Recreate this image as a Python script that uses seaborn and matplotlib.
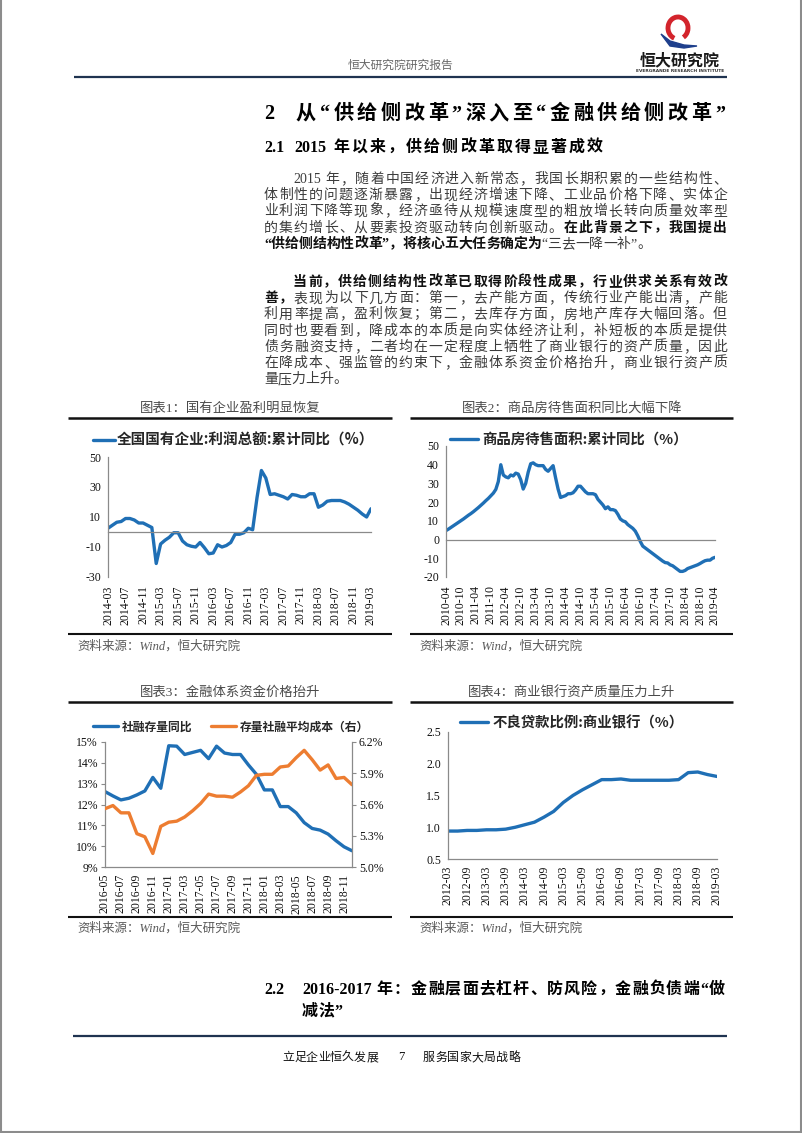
import numpy as np
import pandas as pd
import matplotlib
matplotlib.use("Agg")
import matplotlib.pyplot as plt
import seaborn as sns
from matplotlib.patches import Arc, Polygon
from matplotlib.lines import Line2D
from matplotlib.font_manager import FontProperties

# ---------------- data ----------------
soe_months = pd.date_range("2014-03", "2019-03", freq="MS")
soe_profit_yoy = [2.5, 4.5, 6.5, 7.0, 9.0, 9.0, 8.0, 6.0, 6.0, 4.5,
                  3.0, -21.0, -8.0, -5.5, -3.5, -0.5, -0.5, -6.0, -8.5, -9.5, -10.0, -7.0,
                  -10.5, -14.5, -14.0, -8.5, -10.0, -9.0, -7.0, -1.5, -1.5, -0.5, 2.5, 1.5,
                  23.0, 41.0, 36.0, 25.0, 25.5, 24.5, 23.5, 22.0, 25.0, 24.5, 23.5, 23.5,
                  25.5, 25.5, 16.5, 18.0, 20.5, 21.0, 21.0, 21.0, 20.0, 18.5, 16.5, 14.5,
                  12.0, 10.0, 15.5]

house_months = pd.date_range("2010-04", "2019-04", freq="MS")
house_unsold_yoy = [4.8, 5.6, 6.5, 7.4, 8.3, 9.2, 10.1, 11.0, 12.0,
                    13.0, 13.9, 14.9, 16.0, 17.1, 18.3, 19.5, 20.8, 22.0, 23.4, 24.8, 26.8,
                    31.0, 40.0, 34.5, 33.5, 33.0, 34.5, 34.0, 35.5, 35.0, 32.0, 27.0, 30.0,
                    36.0, 40.5, 41.0, 40.0, 39.5, 39.5, 39.5, 37.5, 36.5, 38.0, 39.5, 33.0,
                    27.0, 22.5, 23.0, 23.5, 24.5, 24.5, 25.0, 26.5, 28.5, 28.5, 27.0, 25.5,
                    24.5, 24.5, 24.5, 24.0, 21.5, 20.0, 18.5, 16.5, 17.5, 16.0, 16.0, 15.5,
                    13.5, 11.0, 10.0, 9.5, 8.0, 7.0, 6.0, 4.5, 2.0, -1.0, -3.5, -4.5,
                    -5.5, -6.5, -7.5, -8.5, -9.5, -10.5, -11.5, -12.3, -12.5, -13.5, -14.0, -15.0,
                    -16.0, -17.0, -17.0, -16.5, -15.5, -15.0, -14.5, -14.0, -13.5, -12.8, -12.0, -11.3,
                    -11.0, -11.0, -10.0, -9.5]

tsf_months = pd.date_range("2016-05", "2018-12", freq="MS")
tsf_stock_yoy = [12.62, 12.41, 12.22, 12.30, 12.46, 12.65, 13.30, 12.78,
                 14.82, 14.80, 14.40, 14.50, 14.60, 14.20, 14.80, 14.47, 14.40, 14.40, 13.90, 13.45,
                 12.70, 12.70, 11.90, 11.90, 11.60, 11.13, 10.85, 10.77, 10.58, 10.26, 9.97, 9.78]
tsf_avg_cost = [5.56, 5.59, 5.52, 5.52, 5.32, 5.29, 5.13, 5.39,
                5.43, 5.44, 5.48, 5.54, 5.61, 5.70, 5.68, 5.68, 5.67, 5.72, 5.78, 5.88,
                5.89, 5.89, 5.96, 5.97, 6.05, 6.12, 6.03, 5.93, 5.98, 5.85, 5.86, 5.79]

npl_quarters = pd.date_range("2012-03", "2019-03", freq="3MS")
npl_ratio = [0.94, 0.94, 0.95, 0.95, 0.96, 0.96, 0.97, 1.00, 1.04, 1.08, 1.16, 1.25,
             1.39, 1.50, 1.59, 1.67, 1.75, 1.75, 1.76, 1.74, 1.74, 1.74, 1.74, 1.74,
             1.75, 1.86, 1.87, 1.83, 1.80]

soe_labels = [d.strftime("%Y-%m") for d in soe_months]
house_labels = [d.strftime("%Y-%m") for d in house_months]
tsf_labels = [d.strftime("%Y-%m") for d in tsf_months]
npl_labels = [d.strftime("%Y-%m") for d in npl_quarters]

legend1 = "全国国有企业:利润总额:累计同比（%）"
legend2 = "商品房待售面积:累计同比（%）"
legend3 = ["社融存量同比", "存量社融平均成本（右）"]
legend4 = "不良贷款比例:商业银行（%）"
chart_titles = ["图表1：国有企业盈利明显恢复", "图表2：商品房待售面积同比大幅下降",
                "图表3：金融体系资金价格抬升", "图表4：商业银行资产质量压力上升"]
source_text = "资料来源：Wind，恒大研究院"

# ---------------- style ----------------
sns.set_theme(style="white")
plt.rcParams["font.family"] = ["Liberation Serif", "Noto Sans CJK SC", "DejaVu Sans"]
plt.rcParams["axes.unicode_minus"] = False

BLUE = "#1f6fb5"
ORANGE = "#ed7d31"
GRAY_AX = "#8a8a8a"
NAVY = "#1f3350"
CJK = ["Noto Sans CJK SC", "DejaVu Sans"]
SER = ["Liberation Serif", "Noto Sans CJK SC", "DejaVu Sans"]
TICK_SIZE = 8.5
LW = 2.4

W, H = 802, 1133
fig = plt.figure(figsize=(W / 100, H / 100), dpi=100)
fig.patch.set_facecolor("white")
page = fig.add_axes([0, 0, 1, 1])
page.set_xlim(0, W)
page.set_ylim(H, 0)
page.axis("off")
renderer = fig.canvas.get_renderer()


def add_ax(l, t, r, b):
    return fig.add_axes([l / W, 1 - b / H, (r - l) / W, (b - t) / H])


def hline(x0, x1, y, lw, color):
    page.add_line(Line2D([x0, x1], [y, y], lw=lw, color=color, solid_capstyle="butt"))


def tokens_of(s):
    toks, buf = [], ""
    for ch in s:
        if ch.isascii() and ch != " ":
            buf += ch
        else:
            if buf:
                toks.append(buf)
                buf = ""
            toks.append(ch)
    if buf:
        toks.append(buf)
    return toks


def put_line(segs, x0, y, size, x1=None, normal_color="#3c3c3c", bold_color="#111111"):
    px = size * 100 / 72
    arts, widths = [], []
    for text, bold in segs:
        for tk in tokens_of(text):
            if tk == " ":
                arts.append(None)
                widths.append(px * 0.2)
                continue
            t = page.text(x0, y + 0.36 * px, tk, fontsize=size,
                          fontweight="bold" if bold else "normal",
                          color=bold_color if bold else normal_color,
                          family=SER, ha="left", va="baseline")
            arts.append(t)
            widths.append(t.get_window_extent(renderer).width)
    gap = 0.0
    if x1 is not None and len(arts) > 1:
        gap = (x1 - x0 - sum(widths)) / (len(arts) - 1)
    x = x0
    for t, w in zip(arts, widths):
        if t is not None:
            t.set_x(x)
        x += w + gap


# ---------------- page decoration ----------------
page.add_line(Line2D([1, 1], [0, H - 1], lw=1.5, color="#8c8c8c"))
page.add_line(Line2D([W - 1, W - 1], [0, H - 1], lw=1.5, color="#8c8c8c"))
page.add_line(Line2D([0, W], [H - 1.5, H - 1.5], lw=1.5, color="#8c8c8c"))

page.text(401, 65, "恒大研究院研究报告", fontsize=8.5, color="#666666", family=CJK,
          ha="center", va="center")
hline(74, 727, 77, 1.6, NAVY)
# logo
page.add_patch(Arc((678, 28), 20, 22, theta1=110, theta2=420, lw=3.5, color="#d3242c"))
page.add_patch(Polygon([(661, 34), (670, 41), (684, 45), (697, 46), (684, 48), (670, 46)],
                       closed=True, color="#1e3f8c"))
page.text(680, 60, "恒大研究院", fontsize=11.5, fontweight="bold", color="#1a1a1a",
          family=CJK, ha="center", va="center")
page.text(680, 71, "EVERGRANDE RESEARCH INSTITUTE", fontsize=3.2, fontweight="bold",
          color="#333333", family=["DejaVu Sans"], ha="center", va="center")

# headings and body text
put_line([("2", True)], 264, 112, 14.5, bold_color="#000000")
put_line([("从“供给侧改革”深入至“金融供给侧改革”", True)], 296, 112, 14.5, x1=725,
         bold_color="#000000")
put_line([("2.1", True)], 264, 146, 11.5, bold_color="#000000")
put_line([("2015 年以来，供给侧改革取得显著成效", True)], 294, 146, 11.5, x1=603,
         bold_color="#000000")

para1 = [
    [("2015 年，随着中国经济进入新常态，我国长期积累的一些结构性、", False)],
    [("体制性的问题逐渐暴露，出现经济增速下降、工业品价格下降、实体企", False)],
    [("业利润下降等现象，经济亟待从规模速度型的粗放增长转向质量效率型", False)],
    [("的集约增长、从要素投资驱动转向创新驱动。", False), ("在此背景之下，我国提出", True)],
    [("“供给侧结构性改革”，将核心五大任务确定为", True), ("“三去一降一补”。", False)],
]
para2 = [
    [("当前，供给侧结构性改革已取得阶段性成果，行业供求关系有效改", True)],
    [("善，", True), ("表现为以下几方面：第一，去产能方面，传统行业产能出清，产能", False)],
    [("利用率提高，盈利恢复；第二，去库存方面，房地产库存大幅回落。但", False)],
    [("同时也要看到，降成本的本质是向实体经济让利，补短板的本质是提供", False)],
    [("债务融资支持，二者均在一定程度上牺牲了商业银行的资产质量，因此", False)],
    [("在降成本、强监管的约束下，金融体系资金价格抬升，商业银行资产质", False)],
    [("量压力上升。", False)],
]
BODY = 10
LS = 16.2
for para, y0 in ((para1, 178), (para2, 281)):
    for k, segs in enumerate(para):
        last = k == len(para) - 1
        x0 = 293 if k == 0 else 264
        put_line(segs, x0, y0 + k * LS, BODY, x1=None if last else 727)

put_line([("2.2", True)], 264, 988, 11.5, bold_color="#000000")
put_line([("2016-2017 年：金融层面去杠杆、防风险，金融负债端“做", True)], 302, 988, 11.5,
         x1=725, bold_color="#000000")
put_line([("减法”", True)], 302, 1010, 11.5, bold_color="#000000")

hline(73, 727, 1036, 1.6, NAVY)
put_line([("立足企业恒久发展", False)], 282, 1057, 8.6, x1=378, normal_color="#111111")
page.text(401, 1057, "7", fontsize=9, color="#111111", family=SER, ha="center", va="center")
put_line([("服务国家大局战略", False)], 423, 1057, 8.6, x1=520, normal_color="#111111")

# chart frames
for (xl, xr), (yt, yb, ys) in [((68, 392), (418, 634, 646)),
                               ((410, 733), (418, 634, 646)),
                               ((68, 392), (702, 917, 928)),
                               ((410, 733), (702, 917, 928))]:
    hline(xl, xr, yt, 1.8, "#111111")
    hline(xl, xr, yb, 1.5, "#111111")
    page.text(xl + 9, ys, source_text, fontsize=9, color="#5a5a5a", family=SER,
              style="italic", ha="left", va="center")
for title, (xc, yc) in zip(chart_titles, [(230, 408), (572, 408), (230, 693), (572, 693)]):
    page.text(xc, yc, title, fontsize=9.6, color="#4a4a4a", family=SER, ha="center", va="center")


def style_ax(ax):
    ax.set_facecolor("none")
    ax.grid(False)
    for side in ("top", "right"):
        ax.spines[side].set_visible(False)
    for side in ("left", "bottom"):
        ax.spines[side].set_color(GRAY_AX)
        ax.spines[side].set_linewidth(0.9)
    ax.tick_params(axis="y", length=3, width=0.8, color=GRAY_AX, pad=2,
                   labelsize=TICK_SIZE, labelcolor="#111111", direction="out")
    ax.tick_params(axis="x", length=3, width=0.8, color=GRAY_AX, labelsize=TICK_SIZE,
                   labelcolor="#111111", direction="out")
    ax.set_xlabel("")
    ax.set_ylabel("")


def zero_axis_labels(ax, ticks, labels, pad):
    ax.spines["bottom"].set_position(("data", 0))
    ax.set_xticks(ticks)
    ax.tick_params(axis="x", labelbottom=False)
    sec = ax.secondary_xaxis("bottom")
    sec.set_xticks(ticks)
    sec.set_xticklabels(labels, rotation=90)
    sec.tick_params(length=0, pad=pad, labelsize=TICK_SIZE, labelcolor="#111111")
    sec.spines["bottom"].set_visible(False)


def fig_legend(handles, labels, x, y, size, hl, htp, ncol=1, cs=1.0):
    fig.legend(handles=handles, labels=labels, loc="center left",
               bbox_to_anchor=(x / W, 1 - y / H), bbox_transform=fig.transFigure,
               frameon=False, borderpad=0, borderaxespad=0, handlelength=hl,
               handletextpad=htp, ncol=ncol, columnspacing=cs,
               prop=FontProperties(family=CJK, weight="bold", size=size))


# ---------------- chart 1 ----------------
ax1 = add_ax(108, 457, 371, 577)
df1 = pd.DataFrame({"i": np.arange(len(soe_profit_yoy)), "v": soe_profit_yoy})
sns.lineplot(data=df1, x="i", y="v", ax=ax1, color=BLUE, lw=LW)
ax1.set_xlim(0, len(soe_profit_yoy) - 1)
ax1.set_ylim(-30, 50)
ax1.set_yticks([-30, -10, 10, 30, 50])
style_ax(ax1)
t1 = np.arange(0, len(soe_labels), 4)
zero_axis_labels(ax1, t1, [soe_labels[i] for i in t1], 6)
fig_legend([ax1.get_lines()[0]], [legend1], 93, 440, 10.5, 1.5, 0.15)

# ---------------- chart 2 ----------------
ax2 = add_ax(446, 446, 715, 577)
df2 = pd.DataFrame({"i": np.arange(len(house_unsold_yoy)), "v": house_unsold_yoy})
sns.lineplot(data=df2, x="i", y="v", ax=ax2, color=BLUE, lw=LW)
ax2.set_xlim(0, len(house_unsold_yoy) - 1)
ax2.set_ylim(-20, 50)
ax2.set_yticks(np.arange(-20, 51, 10))
style_ax(ax2)
t2 = np.arange(0, len(house_labels), 6)
zero_axis_labels(ax2, t2, [house_labels[i] for i in t2], 6)
fig_legend([ax2.get_lines()[0]], [legend2], 450, 440, 10.4, 1.95, 0.28)

# ---------------- chart 3 ----------------
ax3 = add_ax(105, 742, 352, 867)
df3 = pd.DataFrame({"i": np.arange(len(tsf_stock_yoy)), "a": tsf_stock_yoy, "b": tsf_avg_cost})
sns.lineplot(data=df3, x="i", y="a", ax=ax3, color=BLUE, lw=LW)
ax3b = ax3.twinx()
sns.lineplot(data=df3, x="i", y="b", ax=ax3b, color=ORANGE, lw=LW)
ax3.set_xlim(0, len(tsf_stock_yoy) - 1)
ax3.set_ylim(9, 15)
ax3.set_yticks(np.arange(9, 16, 1))
ax3.set_yticklabels([f"{v}%" for v in range(9, 16)])
ax3b.set_ylim(5.0, 6.2)
ax3b.set_yticks([5.0, 5.3, 5.6, 5.9, 6.2])
ax3b.set_yticklabels([f"{v:.1f}%" for v in [5.0, 5.3, 5.6, 5.9, 6.2]])
style_ax(ax3)
t3 = np.arange(0, len(tsf_labels), 2)
ax3.set_xticks(t3)
ax3.set_xticklabels([tsf_labels[i] for i in t3], rotation=90)
ax3.tick_params(axis="x", pad=2)
ax3b.grid(False)
ax3b.set_facecolor("none")
ax3b.set_ylabel("")
for side in ("top", "left", "bottom"):
    ax3b.spines[side].set_visible(False)
ax3b.spines["right"].set_color(GRAY_AX)
ax3b.spines["right"].set_linewidth(0.9)
ax3b.tick_params(axis="y", length=3, width=0.8, color=GRAY_AX, pad=2,
                 labelsize=TICK_SIZE, labelcolor="#111111", direction="out")
fig_legend([ax3.get_lines()[0], ax3b.get_lines()[0]], legend3, 93, 727, 8.5, 2.1, 0.33,
           ncol=2, cs=1.6)

# ---------------- chart 4 ----------------
ax4 = add_ax(448, 732, 717, 859)
df4 = pd.DataFrame({"i": np.arange(len(npl_ratio)), "v": npl_ratio})
sns.lineplot(data=df4, x="i", y="v", ax=ax4, color=BLUE, lw=LW)
ax4.set_xlim(0, len(npl_ratio) - 1)
ax4.set_ylim(0.5, 2.5)
ax4.set_yticks(np.arange(0.5, 2.51, 0.5))
ax4.set_yticklabels([f"{v:.1f}" for v in np.arange(0.5, 2.51, 0.5)])
style_ax(ax4)
t4 = np.arange(0, len(npl_labels), 2)
ax4.set_xticks(t4)
ax4.set_xticklabels([npl_labels[i] for i in t4], rotation=90)
ax4.tick_params(axis="x", pad=2)
fig_legend([ax4.get_lines()[0]], [legend4], 460, 723, 10.4, 1.95, 0.28)

fig.savefig("out.png", dpi=100, facecolor="white")
